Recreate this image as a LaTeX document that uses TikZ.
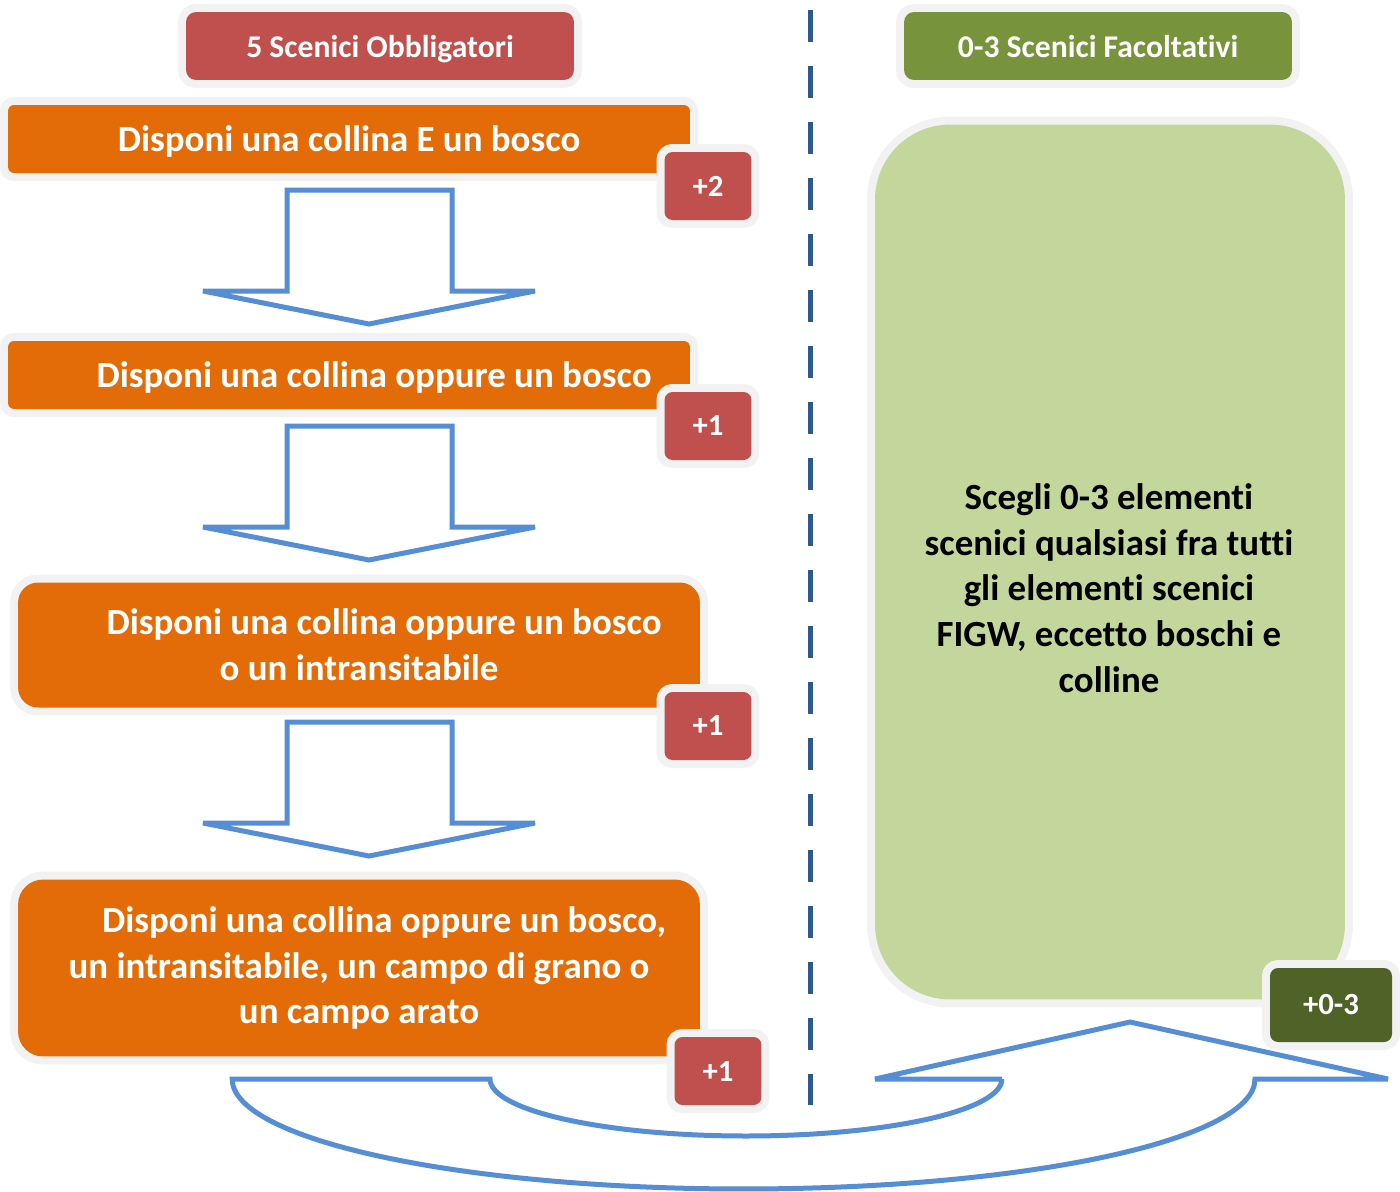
\documentclass[tikz,border=0pt]{standalone}
\usepackage{fontspec}
\setmainfont{Carlito}[RawFeature={-liga;-clig;-calt;-dlig}]
\usepackage{tikz}
\usetikzlibrary{positioning}
\definecolor{hdrred}{HTML}{C0504D}
\definecolor{hdrgreen}{HTML}{77933C}
\definecolor{steporange}{HTML}{E36C09}
\definecolor{optgreen}{HTML}{C3D69B}
\definecolor{darkgreen}{HTML}{4F6228}
\definecolor{flowblue}{HTML}{558ED5}
\definecolor{sepblue}{HTML}{2C5A8F}
\definecolor{halogray}{HTML}{F2F2F2}
\tikzset{
  haloed/.style={preaction={draw=halogray,line width=0.32cm}},
  header/.style={haloed,rounded corners=0.2cm,text=white,font=\fontsize{18}{22}\selectfont\bfseries,
    minimum width=7.76cm,minimum height=1.36cm,inner sep=0pt,text depth=0pt},
  stepbox/.style={haloed,fill=steporange,text=white,font=\fontsize{21}{26}\selectfont\bfseries,
    align=center,minimum width=13.64cm,inner sep=0pt},
  badge/.style={haloed,rounded corners=0.16cm,text=white,font=\fontsize{17.5}{21}\selectfont\bfseries,
    minimum width=1.74cm,minimum height=1.36cm,inner sep=0pt},
  blockarr/.style={draw=flowblue,line width=0.1cm,miter limit=4}
}

\begin{document}
\begin{tikzpicture}[x=0.02cm,y=-0.02cm]
\useasboundingbox (0,0) rectangle (1400,1191);
% headers
\node[header,fill=hdrred] (oblig) at (380,46) {5 Scenici Obbligatori};
\node[header,fill=hdrgreen] (facolt) at (1098,46) {0-3 Scenici Facoltativi};
% separator
\coordinate (septop) at (810,10);
\coordinate (sepbot) at (810,1105);
\draw[sepblue,line width=0.1cm,dash pattern=on 0.64cm off 0.48cm] (septop) -- (sepbot);
% mandatory steps
\node[stepbox,rounded corners=0.12cm,minimum height=1.36cm,text depth=0pt] (step1) at (349,139) {Disponi una collina E un bosco};
\node[stepbox,rounded corners=0.12cm,minimum height=1.36cm,text depth=0pt] (step2) at (349,375) {\hspace*{1cm}Disponi una collina oppure un bosco};
\node[stepbox,rounded corners=0.4cm,minimum height=2.5cm] (step3) at (359,645) {\hspace*{1cm}Disponi una collina oppure un bosco\\o un intransitabile};
\node[stepbox,rounded corners=0.5cm,minimum height=3.54cm] (step4) at (359,968) {\hspace*{1cm}Disponi una collina oppure un bosco,\\un intransitabile, un campo di grano o\\un campo arato};
\node[badge,fill=hdrred] (pts1) at (708,186) {+2};
\node[badge,fill=hdrred] (pts2) at (708,426) {+1};
\node[badge,fill=hdrred] (pts3) at (708,726) {+1};
\node[badge,fill=hdrred] (pts4) at (718,1071) {+1};
% optional scenery
\node[haloed,fill=optgreen,rounded corners=1.5cm,minimum width=9.4cm,minimum height=17.5cm] (optbox) at (1110,562) {};
\node[align=center,font=\fontsize{21}{26}\selectfont\bfseries] (opttext) at (1109,588)
  {Scegli 0-3 elementi\\scenici qualsiasi fra tutti\\gli elementi scenici\\FIGW, eccetto boschi e\\colline};
\node[badge,fill=darkgreen,minimum width=2.44cm,minimum height=1.48cm] (ptsopt) at (1331,1005) {+0-3};
% block arrows
\foreach \ytop in {190,426,722} {
  \draw[blockarr] (287,\ytop) -- (452,\ytop) -- (452,\ytop+101) -- (535,\ytop+101)
    -- (369,\ytop+134) -- (203,\ytop+101) -- (287,\ytop+101) -- cycle;
}
% u-turn arrow
\draw[blockarr] (1002,1079) -- (875,1079) -- (1130,1022) -- (1388,1079) -- (1255,1079)
  arc[start angle=0,end angle=-180,x radius=10.23cm,y radius=2.2cm] -- (490,1079)
  arc[start angle=180,end angle=360,x radius=5.12cm,y radius=1.14cm] -- cycle;
\end{tikzpicture}
\end{document}
